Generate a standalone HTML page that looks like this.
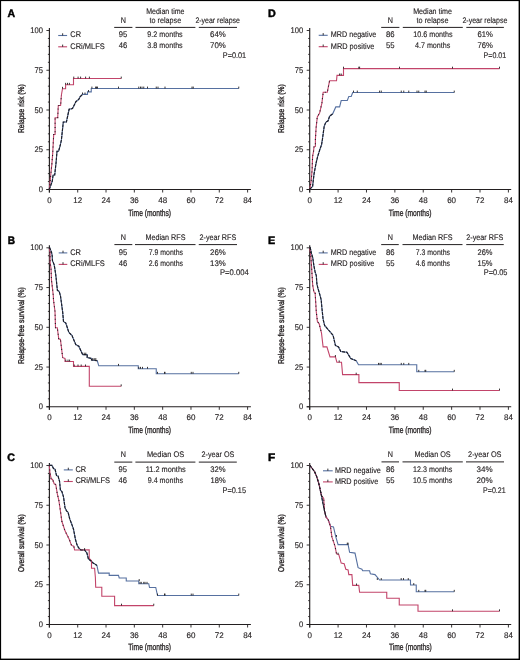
<!DOCTYPE html>
<html><head><meta charset="utf-8"><style>
html,body{margin:0;padding:0;background:#fff;}
svg{display:block;font-family:"Liberation Sans",sans-serif;will-change:transform;text-rendering:geometricPrecision;}
</style></head><body>
<svg width="520" height="660" viewBox="0 0 520 660">
<rect x="0" y="0" width="520" height="660" fill="#fff"/>
<rect x="0" y="0" width="520" height="1.1" fill="#000"/><rect x="0" y="0" width="1.1" height="660" fill="#000"/><rect x="518.6" y="0" width="1.4" height="660" fill="#000"/><rect x="0" y="658.6" width="520" height="1.4" fill="#000"/>
<line x1="49.40" y1="192.50" x2="49.40" y2="28.00" stroke="#231f20" stroke-width="1.15"/>
<line x1="46.40" y1="189.50" x2="250.90" y2="189.50" stroke="#231f20" stroke-width="1.1"/>
<line x1="46.40" y1="189.50" x2="49.40" y2="189.50" stroke="#231f20" stroke-width="0.9"/>
<line x1="47.90" y1="181.55" x2="49.40" y2="181.55" stroke="#231f20" stroke-width="0.9"/>
<line x1="47.90" y1="173.60" x2="49.40" y2="173.60" stroke="#231f20" stroke-width="0.9"/>
<line x1="47.90" y1="165.65" x2="49.40" y2="165.65" stroke="#231f20" stroke-width="0.9"/>
<line x1="47.90" y1="157.70" x2="49.40" y2="157.70" stroke="#231f20" stroke-width="0.9"/>
<line x1="46.40" y1="149.75" x2="49.40" y2="149.75" stroke="#231f20" stroke-width="0.9"/>
<line x1="47.90" y1="141.80" x2="49.40" y2="141.80" stroke="#231f20" stroke-width="0.9"/>
<line x1="47.90" y1="133.85" x2="49.40" y2="133.85" stroke="#231f20" stroke-width="0.9"/>
<line x1="47.90" y1="125.90" x2="49.40" y2="125.90" stroke="#231f20" stroke-width="0.9"/>
<line x1="47.90" y1="117.95" x2="49.40" y2="117.95" stroke="#231f20" stroke-width="0.9"/>
<line x1="46.40" y1="110.00" x2="49.40" y2="110.00" stroke="#231f20" stroke-width="0.9"/>
<line x1="47.90" y1="102.05" x2="49.40" y2="102.05" stroke="#231f20" stroke-width="0.9"/>
<line x1="47.90" y1="94.10" x2="49.40" y2="94.10" stroke="#231f20" stroke-width="0.9"/>
<line x1="47.90" y1="86.15" x2="49.40" y2="86.15" stroke="#231f20" stroke-width="0.9"/>
<line x1="47.90" y1="78.20" x2="49.40" y2="78.20" stroke="#231f20" stroke-width="0.9"/>
<line x1="46.40" y1="70.25" x2="49.40" y2="70.25" stroke="#231f20" stroke-width="0.9"/>
<line x1="47.90" y1="62.30" x2="49.40" y2="62.30" stroke="#231f20" stroke-width="0.9"/>
<line x1="47.90" y1="54.35" x2="49.40" y2="54.35" stroke="#231f20" stroke-width="0.9"/>
<line x1="47.90" y1="46.40" x2="49.40" y2="46.40" stroke="#231f20" stroke-width="0.9"/>
<line x1="47.90" y1="38.45" x2="49.40" y2="38.45" stroke="#231f20" stroke-width="0.9"/>
<line x1="46.40" y1="30.50" x2="49.40" y2="30.50" stroke="#231f20" stroke-width="0.9"/>
<line x1="49.40" y1="189.50" x2="49.40" y2="192.50" stroke="#231f20" stroke-width="0.9"/>
<text x="47.18" y="202.75" font-size="8.2" font-weight="normal" textLength="4.45" lengthAdjust="spacingAndGlyphs" fill="#231f20" stroke="#231f20" stroke-width="0.14">0</text>
<line x1="77.71" y1="189.50" x2="77.71" y2="192.50" stroke="#231f20" stroke-width="0.9"/>
<text x="73.27" y="202.75" font-size="8.2" font-weight="normal" textLength="8.90" lengthAdjust="spacingAndGlyphs" fill="#231f20" stroke="#231f20" stroke-width="0.14">12</text>
<line x1="106.03" y1="189.50" x2="106.03" y2="192.50" stroke="#231f20" stroke-width="0.9"/>
<text x="101.58" y="202.75" font-size="8.2" font-weight="normal" textLength="8.90" lengthAdjust="spacingAndGlyphs" fill="#231f20" stroke="#231f20" stroke-width="0.14">24</text>
<line x1="134.34" y1="189.50" x2="134.34" y2="192.50" stroke="#231f20" stroke-width="0.9"/>
<text x="129.89" y="202.75" font-size="8.2" font-weight="normal" textLength="8.90" lengthAdjust="spacingAndGlyphs" fill="#231f20" stroke="#231f20" stroke-width="0.14">36</text>
<line x1="162.66" y1="189.50" x2="162.66" y2="192.50" stroke="#231f20" stroke-width="0.9"/>
<text x="158.21" y="202.75" font-size="8.2" font-weight="normal" textLength="8.90" lengthAdjust="spacingAndGlyphs" fill="#231f20" stroke="#231f20" stroke-width="0.14">48</text>
<line x1="190.97" y1="189.50" x2="190.97" y2="192.50" stroke="#231f20" stroke-width="0.9"/>
<text x="186.52" y="202.75" font-size="8.2" font-weight="normal" textLength="8.90" lengthAdjust="spacingAndGlyphs" fill="#231f20" stroke="#231f20" stroke-width="0.14">60</text>
<line x1="219.29" y1="189.50" x2="219.29" y2="192.50" stroke="#231f20" stroke-width="0.9"/>
<text x="214.84" y="202.75" font-size="8.2" font-weight="normal" textLength="8.90" lengthAdjust="spacingAndGlyphs" fill="#231f20" stroke="#231f20" stroke-width="0.14">72</text>
<line x1="247.60" y1="189.50" x2="247.60" y2="192.50" stroke="#231f20" stroke-width="0.9"/>
<text x="243.15" y="202.75" font-size="8.2" font-weight="normal" textLength="8.90" lengthAdjust="spacingAndGlyphs" fill="#231f20" stroke="#231f20" stroke-width="0.14">84</text>
<text x="38.77" y="192.05" font-size="8.2" font-weight="normal" textLength="4.23" lengthAdjust="spacingAndGlyphs" fill="#231f20" stroke="#231f20" stroke-width="0.14">0</text>
<text x="34.55" y="152.30" font-size="8.2" font-weight="normal" textLength="8.45" lengthAdjust="spacingAndGlyphs" fill="#231f20" stroke="#231f20" stroke-width="0.14">25</text>
<text x="34.55" y="112.55" font-size="8.2" font-weight="normal" textLength="8.45" lengthAdjust="spacingAndGlyphs" fill="#231f20" stroke="#231f20" stroke-width="0.14">50</text>
<text x="34.55" y="72.80" font-size="8.2" font-weight="normal" textLength="8.45" lengthAdjust="spacingAndGlyphs" fill="#231f20" stroke="#231f20" stroke-width="0.14">75</text>
<text x="30.32" y="33.05" font-size="8.2" font-weight="normal" textLength="12.68" lengthAdjust="spacingAndGlyphs" fill="#231f20" stroke="#231f20" stroke-width="0.14">100</text>
<text x="7.40" y="16.60" font-size="10.8" font-weight="bold" textLength="7.60" lengthAdjust="spacingAndGlyphs" fill="#000" stroke="#000" stroke-width="0.45">A</text>
<text transform="translate(23.80,133.00) rotate(-90)" x="0" y="0" font-size="8.4" textLength="48.60" lengthAdjust="spacingAndGlyphs" fill="#231f20" stroke="#231f20" stroke-width="0.36">Relapse risk (%)</text>
<text x="128.30" y="215.60" font-size="9.2" font-weight="normal" textLength="42.70" lengthAdjust="spacingAndGlyphs" fill="#231f20" stroke="#231f20" stroke-width="0.32">Time (months)</text>
<path d="M49.30,189.40 L52.30,181.00 L53.10,175.00 L54.70,175.00 L56.20,161.30 L57.00,151.20 L58.60,151.20 L60.20,145.50 L61.40,140.00 L63.30,122.00 L66.40,122.00 L69.10,109.30 L72.50,108.50 L76.00,101.50 L78.75,99.40 L80.00,96.90 L82.50,94.40 L87.50,94.40 L87.50,91.90 L91.25,91.90 L91.25,88.50 L238.75,88.50" fill="none" stroke="#5670a0" stroke-width="1.1" stroke-linejoin="miter"/>
<path d="M49.30,189.40 L50.70,175.40 L51.90,163.60 L52.70,153.40 L53.70,134.50 L55.10,134.50 L55.10,117.80 L57.70,117.80 L58.30,105.50 L60.60,105.50 L61.40,95.00 L62.50,88.75 L65.60,88.75 L65.60,84.75 L73.50,84.75 L73.50,78.50 L121.25,78.50" fill="none" stroke="#c2446a" stroke-width="1.1" stroke-linejoin="miter"/>
<path d="M49.30,189.40 L52.30,181.00 L53.10,175.00 L54.70,175.00 L56.20,161.30 L57.00,151.20 L58.60,151.20 L60.20,145.50 L61.40,140.00 L63.30,122.00 L66.40,122.00 L69.10,109.30 L72.50,108.50 L76.00,101.50 L78.75,99.40 L80.00,96.90 L82.50,94.40" fill="none" stroke="#1c1c24" stroke-width="1.15" stroke-dasharray="3 0.9"/>
<path d="M49.30,189.40 L50.70,175.40 L51.90,163.60 L52.70,153.40 L53.70,134.50 L55.10,134.50 L55.10,117.80 L57.70,117.80 L58.30,105.50 L60.60,105.50 L61.40,95.00" fill="none" stroke="#1c1c24" stroke-width="1.1" stroke-dasharray="1 3.2"/>
<line x1="138.75" y1="88.50" x2="138.75" y2="86.60" stroke="#231f20" stroke-width="0.9"/>
<line x1="140.50" y1="88.50" x2="140.50" y2="86.60" stroke="#231f20" stroke-width="0.9"/>
<line x1="142.00" y1="88.50" x2="142.00" y2="86.60" stroke="#231f20" stroke-width="0.9"/>
<line x1="143.75" y1="88.50" x2="143.75" y2="86.60" stroke="#231f20" stroke-width="0.9"/>
<line x1="147.50" y1="88.50" x2="147.50" y2="86.60" stroke="#231f20" stroke-width="0.9"/>
<line x1="156.25" y1="88.50" x2="156.25" y2="86.60" stroke="#231f20" stroke-width="0.9"/>
<line x1="158.00" y1="88.50" x2="158.00" y2="86.60" stroke="#231f20" stroke-width="0.9"/>
<line x1="165.00" y1="88.50" x2="165.00" y2="86.60" stroke="#231f20" stroke-width="0.9"/>
<line x1="192.00" y1="88.50" x2="192.00" y2="86.60" stroke="#231f20" stroke-width="0.9"/>
<line x1="193.25" y1="88.50" x2="193.25" y2="86.60" stroke="#231f20" stroke-width="0.9"/>
<line x1="238.75" y1="88.50" x2="238.75" y2="86.60" stroke="#231f20" stroke-width="0.9"/>
<line x1="91.90" y1="88.50" x2="91.90" y2="86.60" stroke="#231f20" stroke-width="0.9"/>
<line x1="95.60" y1="88.50" x2="95.60" y2="86.60" stroke="#231f20" stroke-width="0.9"/>
<line x1="96.50" y1="88.50" x2="96.50" y2="86.60" stroke="#231f20" stroke-width="0.9"/>
<line x1="97.50" y1="88.50" x2="97.50" y2="86.60" stroke="#231f20" stroke-width="0.9"/>
<line x1="118.50" y1="88.50" x2="118.50" y2="86.60" stroke="#231f20" stroke-width="0.9"/>
<line x1="82.50" y1="94.40" x2="82.50" y2="92.50" stroke="#231f20" stroke-width="0.9"/>
<line x1="85.00" y1="94.40" x2="85.00" y2="92.50" stroke="#231f20" stroke-width="0.9"/>
<line x1="88.50" y1="91.90" x2="88.50" y2="90.00" stroke="#231f20" stroke-width="0.9"/>
<line x1="73.75" y1="78.50" x2="73.75" y2="76.60" stroke="#231f20" stroke-width="0.9"/>
<line x1="78.10" y1="78.50" x2="78.10" y2="76.60" stroke="#231f20" stroke-width="0.9"/>
<line x1="80.60" y1="78.50" x2="80.60" y2="76.60" stroke="#231f20" stroke-width="0.9"/>
<line x1="85.60" y1="78.50" x2="85.60" y2="76.60" stroke="#231f20" stroke-width="0.9"/>
<line x1="89.40" y1="78.50" x2="89.40" y2="76.60" stroke="#231f20" stroke-width="0.9"/>
<line x1="121.25" y1="78.50" x2="121.25" y2="76.60" stroke="#231f20" stroke-width="0.9"/>
<line x1="65.60" y1="84.75" x2="65.60" y2="82.85" stroke="#231f20" stroke-width="0.9"/>
<line x1="67.50" y1="84.75" x2="67.50" y2="82.85" stroke="#231f20" stroke-width="0.9"/>
<line x1="69.40" y1="84.75" x2="69.40" y2="82.85" stroke="#231f20" stroke-width="0.9"/>
<line x1="62.50" y1="88.75" x2="62.50" y2="86.85" stroke="#231f20" stroke-width="0.9"/>
<line x1="58.20" y1="35.50" x2="67.10" y2="35.50" stroke="#5670a0" stroke-width="1.1"/>
<line x1="62.65" y1="35.50" x2="62.65" y2="33.30" stroke="#231f20" stroke-width="0.9"/>
<line x1="58.20" y1="46.80" x2="67.10" y2="46.80" stroke="#c2446a" stroke-width="1.1"/>
<line x1="62.65" y1="46.80" x2="62.65" y2="44.60" stroke="#231f20" stroke-width="0.9"/>
<text x="70.30" y="37.40" font-size="8.1" font-weight="normal" textLength="10.70" lengthAdjust="spacingAndGlyphs" fill="#231f20" stroke="#231f20" stroke-width="0.14">CR</text>
<text x="70.30" y="48.70" font-size="8.1" font-weight="normal" textLength="34.50" lengthAdjust="spacingAndGlyphs" fill="#231f20" stroke="#231f20" stroke-width="0.14">CRi/MLFS</text>
<line x1="114.20" y1="27.40" x2="132.40" y2="27.40" stroke="#231f20" stroke-width="1.0"/>
<line x1="135.50" y1="27.40" x2="195.40" y2="27.40" stroke="#231f20" stroke-width="1.0"/>
<line x1="198.80" y1="27.40" x2="237.00" y2="27.40" stroke="#231f20" stroke-width="1.0"/>
<text x="120.80" y="22.60" font-size="8.1" font-weight="normal" textLength="5.20" lengthAdjust="spacingAndGlyphs" fill="#231f20" stroke="#231f20" stroke-width="0.14">N</text>
<text x="146.20" y="13.50" font-size="8.1" font-weight="normal" textLength="38.30" lengthAdjust="spacingAndGlyphs" fill="#231f20" stroke="#231f20" stroke-width="0.14">Median time</text>
<text x="149.60" y="22.60" font-size="8.1" font-weight="normal" textLength="31.60" lengthAdjust="spacingAndGlyphs" fill="#231f20" stroke="#231f20" stroke-width="0.14">to relapse</text>
<text x="195.40" y="22.60" font-size="8.1" font-weight="normal" textLength="44.60" lengthAdjust="spacingAndGlyphs" fill="#231f20" stroke="#231f20" stroke-width="0.14">2-year relapse</text>
<text x="118.80" y="36.90" font-size="8.1" font-weight="normal" textLength="8.50" lengthAdjust="spacingAndGlyphs" fill="#231f20" stroke="#231f20" stroke-width="0.14">95</text>
<text x="147.30" y="36.90" font-size="8.1" font-weight="normal" textLength="35.40" lengthAdjust="spacingAndGlyphs" fill="#231f20" stroke="#231f20" stroke-width="0.14">9.2 months</text>
<text x="210.00" y="36.90" font-size="8.1" font-weight="normal" textLength="15.80" lengthAdjust="spacingAndGlyphs" fill="#231f20" stroke="#231f20" stroke-width="0.14">64%</text>
<text x="118.80" y="48.30" font-size="8.1" font-weight="normal" textLength="8.50" lengthAdjust="spacingAndGlyphs" fill="#231f20" stroke="#231f20" stroke-width="0.14">46</text>
<text x="147.30" y="48.30" font-size="8.1" font-weight="normal" textLength="35.40" lengthAdjust="spacingAndGlyphs" fill="#231f20" stroke="#231f20" stroke-width="0.14">3.8 months</text>
<text x="210.00" y="48.30" font-size="8.1" font-weight="normal" textLength="15.80" lengthAdjust="spacingAndGlyphs" fill="#231f20" stroke="#231f20" stroke-width="0.14">70%</text>
<text x="222.80" y="58.40" font-size="8.1" font-weight="normal" textLength="23.40" lengthAdjust="spacingAndGlyphs" fill="#231f20" stroke="#231f20" stroke-width="0.14">P=0.01</text>
<line x1="49.40" y1="409.80" x2="49.40" y2="245.30" stroke="#231f20" stroke-width="1.15"/>
<line x1="46.40" y1="406.80" x2="250.90" y2="406.80" stroke="#231f20" stroke-width="1.1"/>
<line x1="46.40" y1="406.80" x2="49.40" y2="406.80" stroke="#231f20" stroke-width="0.9"/>
<line x1="47.90" y1="398.85" x2="49.40" y2="398.85" stroke="#231f20" stroke-width="0.9"/>
<line x1="47.90" y1="390.90" x2="49.40" y2="390.90" stroke="#231f20" stroke-width="0.9"/>
<line x1="47.90" y1="382.95" x2="49.40" y2="382.95" stroke="#231f20" stroke-width="0.9"/>
<line x1="47.90" y1="375.00" x2="49.40" y2="375.00" stroke="#231f20" stroke-width="0.9"/>
<line x1="46.40" y1="367.05" x2="49.40" y2="367.05" stroke="#231f20" stroke-width="0.9"/>
<line x1="47.90" y1="359.10" x2="49.40" y2="359.10" stroke="#231f20" stroke-width="0.9"/>
<line x1="47.90" y1="351.15" x2="49.40" y2="351.15" stroke="#231f20" stroke-width="0.9"/>
<line x1="47.90" y1="343.20" x2="49.40" y2="343.20" stroke="#231f20" stroke-width="0.9"/>
<line x1="47.90" y1="335.25" x2="49.40" y2="335.25" stroke="#231f20" stroke-width="0.9"/>
<line x1="46.40" y1="327.30" x2="49.40" y2="327.30" stroke="#231f20" stroke-width="0.9"/>
<line x1="47.90" y1="319.35" x2="49.40" y2="319.35" stroke="#231f20" stroke-width="0.9"/>
<line x1="47.90" y1="311.40" x2="49.40" y2="311.40" stroke="#231f20" stroke-width="0.9"/>
<line x1="47.90" y1="303.45" x2="49.40" y2="303.45" stroke="#231f20" stroke-width="0.9"/>
<line x1="47.90" y1="295.50" x2="49.40" y2="295.50" stroke="#231f20" stroke-width="0.9"/>
<line x1="46.40" y1="287.55" x2="49.40" y2="287.55" stroke="#231f20" stroke-width="0.9"/>
<line x1="47.90" y1="279.60" x2="49.40" y2="279.60" stroke="#231f20" stroke-width="0.9"/>
<line x1="47.90" y1="271.65" x2="49.40" y2="271.65" stroke="#231f20" stroke-width="0.9"/>
<line x1="47.90" y1="263.70" x2="49.40" y2="263.70" stroke="#231f20" stroke-width="0.9"/>
<line x1="47.90" y1="255.75" x2="49.40" y2="255.75" stroke="#231f20" stroke-width="0.9"/>
<line x1="46.40" y1="247.80" x2="49.40" y2="247.80" stroke="#231f20" stroke-width="0.9"/>
<line x1="49.40" y1="406.80" x2="49.40" y2="409.80" stroke="#231f20" stroke-width="0.9"/>
<text x="47.18" y="420.05" font-size="8.2" font-weight="normal" textLength="4.45" lengthAdjust="spacingAndGlyphs" fill="#231f20" stroke="#231f20" stroke-width="0.14">0</text>
<line x1="77.71" y1="406.80" x2="77.71" y2="409.80" stroke="#231f20" stroke-width="0.9"/>
<text x="73.27" y="420.05" font-size="8.2" font-weight="normal" textLength="8.90" lengthAdjust="spacingAndGlyphs" fill="#231f20" stroke="#231f20" stroke-width="0.14">12</text>
<line x1="106.03" y1="406.80" x2="106.03" y2="409.80" stroke="#231f20" stroke-width="0.9"/>
<text x="101.58" y="420.05" font-size="8.2" font-weight="normal" textLength="8.90" lengthAdjust="spacingAndGlyphs" fill="#231f20" stroke="#231f20" stroke-width="0.14">24</text>
<line x1="134.34" y1="406.80" x2="134.34" y2="409.80" stroke="#231f20" stroke-width="0.9"/>
<text x="129.89" y="420.05" font-size="8.2" font-weight="normal" textLength="8.90" lengthAdjust="spacingAndGlyphs" fill="#231f20" stroke="#231f20" stroke-width="0.14">36</text>
<line x1="162.66" y1="406.80" x2="162.66" y2="409.80" stroke="#231f20" stroke-width="0.9"/>
<text x="158.21" y="420.05" font-size="8.2" font-weight="normal" textLength="8.90" lengthAdjust="spacingAndGlyphs" fill="#231f20" stroke="#231f20" stroke-width="0.14">48</text>
<line x1="190.97" y1="406.80" x2="190.97" y2="409.80" stroke="#231f20" stroke-width="0.9"/>
<text x="186.52" y="420.05" font-size="8.2" font-weight="normal" textLength="8.90" lengthAdjust="spacingAndGlyphs" fill="#231f20" stroke="#231f20" stroke-width="0.14">60</text>
<line x1="219.29" y1="406.80" x2="219.29" y2="409.80" stroke="#231f20" stroke-width="0.9"/>
<text x="214.84" y="420.05" font-size="8.2" font-weight="normal" textLength="8.90" lengthAdjust="spacingAndGlyphs" fill="#231f20" stroke="#231f20" stroke-width="0.14">72</text>
<line x1="247.60" y1="406.80" x2="247.60" y2="409.80" stroke="#231f20" stroke-width="0.9"/>
<text x="243.15" y="420.05" font-size="8.2" font-weight="normal" textLength="8.90" lengthAdjust="spacingAndGlyphs" fill="#231f20" stroke="#231f20" stroke-width="0.14">84</text>
<text x="38.77" y="409.35" font-size="8.2" font-weight="normal" textLength="4.23" lengthAdjust="spacingAndGlyphs" fill="#231f20" stroke="#231f20" stroke-width="0.14">0</text>
<text x="34.55" y="369.60" font-size="8.2" font-weight="normal" textLength="8.45" lengthAdjust="spacingAndGlyphs" fill="#231f20" stroke="#231f20" stroke-width="0.14">25</text>
<text x="34.55" y="329.85" font-size="8.2" font-weight="normal" textLength="8.45" lengthAdjust="spacingAndGlyphs" fill="#231f20" stroke="#231f20" stroke-width="0.14">50</text>
<text x="34.55" y="290.10" font-size="8.2" font-weight="normal" textLength="8.45" lengthAdjust="spacingAndGlyphs" fill="#231f20" stroke="#231f20" stroke-width="0.14">75</text>
<text x="30.32" y="250.35" font-size="8.2" font-weight="normal" textLength="12.68" lengthAdjust="spacingAndGlyphs" fill="#231f20" stroke="#231f20" stroke-width="0.14">100</text>
<text x="7.70" y="243.60" font-size="10.8" font-weight="bold" textLength="7.30" lengthAdjust="spacingAndGlyphs" fill="#000" stroke="#000" stroke-width="0.45">B</text>
<text transform="translate(23.80,364.00) rotate(-90)" x="0" y="0" font-size="8.4" textLength="76.80" lengthAdjust="spacingAndGlyphs" fill="#231f20" stroke="#231f20" stroke-width="0.36">Relapse-free survival (%)</text>
<text x="128.30" y="432.70" font-size="9.2" font-weight="normal" textLength="42.70" lengthAdjust="spacingAndGlyphs" fill="#231f20" stroke="#231f20" stroke-width="0.32">Time (months)</text>
<path d="M49.30,247.80 L49.60,247.60 L51.50,252.20 L52.20,255.80 L52.40,260.40 L54.20,264.90 L55.10,270.40 L56.00,276.70 L56.90,285.80 L57.40,290.40 L59.20,291.30 L60.50,296.00 L62.70,312.30 L63.50,321.50 L65.80,323.00 L68.80,332.30 L71.90,335.40 L75.80,344.60 L78.80,346.20 L82.70,354.60 L87.20,354.60 L87.20,357.50 L91.50,358.50 L91.50,360.00 L97.30,360.80 L98.75,365.80 L138.25,365.80 L138.25,368.75 L156.25,368.75 L156.25,373.75 L238.75,373.75" fill="none" stroke="#5670a0" stroke-width="1.1" stroke-linejoin="miter"/>
<path d="M49.30,247.80 L50.10,253.00 L50.10,262.20 L51.00,268.50 L51.50,280.40 L52.40,287.60 L53.30,295.80 L53.50,300.00 L55.00,311.50 L55.50,327.70 L57.30,327.70 L58.80,339.20 L60.40,339.20 L62.70,357.70 L65.00,358.50 L65.00,361.50 L73.50,361.50 L73.50,366.40 L89.30,366.40 L89.30,386.25 L121.20,386.25" fill="none" stroke="#c2446a" stroke-width="1.1" stroke-linejoin="miter"/>
<path d="M49.30,247.80 L49.60,247.60 L51.50,252.20 L52.20,255.80 L52.40,260.40 L54.20,264.90 L55.10,270.40 L56.00,276.70 L56.90,285.80 L57.40,290.40 L59.20,291.30 L60.50,296.00 L62.70,312.30 L63.50,321.50 L65.80,323.00 L68.80,332.30 L71.90,335.40 L75.80,344.60 L78.80,346.20 L82.70,354.60 L87.20,354.60 L87.20,357.50 L91.50,358.50 L91.50,360.00 L97.30,360.80" fill="none" stroke="#1c1c24" stroke-width="1.15" stroke-dasharray="3 0.9"/>
<path d="M49.30,247.80 L50.10,253.00 L50.10,262.20 L51.00,268.50 L51.50,280.40 L52.40,287.60 L53.30,295.80 L53.50,300.00 L55.00,311.50 L55.50,327.70 L57.30,327.70 L58.80,339.20 L60.40,339.20 L62.70,357.70" fill="none" stroke="#1c1c24" stroke-width="1.1" stroke-dasharray="1 3.2"/>
<line x1="84.20" y1="354.60" x2="84.20" y2="352.70" stroke="#231f20" stroke-width="0.9"/>
<line x1="85.80" y1="354.60" x2="85.80" y2="352.70" stroke="#231f20" stroke-width="0.9"/>
<line x1="92.70" y1="360.00" x2="92.70" y2="358.10" stroke="#231f20" stroke-width="0.9"/>
<line x1="94.20" y1="360.00" x2="94.20" y2="358.10" stroke="#231f20" stroke-width="0.9"/>
<line x1="95.80" y1="360.00" x2="95.80" y2="358.10" stroke="#231f20" stroke-width="0.9"/>
<line x1="118.50" y1="365.80" x2="118.50" y2="363.90" stroke="#231f20" stroke-width="0.9"/>
<line x1="138.75" y1="368.75" x2="138.75" y2="366.85" stroke="#231f20" stroke-width="0.9"/>
<line x1="140.50" y1="368.75" x2="140.50" y2="366.85" stroke="#231f20" stroke-width="0.9"/>
<line x1="142.50" y1="368.75" x2="142.50" y2="366.85" stroke="#231f20" stroke-width="0.9"/>
<line x1="147.50" y1="368.75" x2="147.50" y2="366.85" stroke="#231f20" stroke-width="0.9"/>
<line x1="157.50" y1="373.75" x2="157.50" y2="371.85" stroke="#231f20" stroke-width="0.9"/>
<line x1="164.50" y1="373.75" x2="164.50" y2="371.85" stroke="#231f20" stroke-width="0.9"/>
<line x1="165.00" y1="373.75" x2="165.00" y2="371.85" stroke="#231f20" stroke-width="0.9"/>
<line x1="191.25" y1="373.75" x2="191.25" y2="371.85" stroke="#231f20" stroke-width="0.9"/>
<line x1="193.00" y1="373.75" x2="193.00" y2="371.85" stroke="#231f20" stroke-width="0.9"/>
<line x1="238.75" y1="373.75" x2="238.75" y2="371.85" stroke="#231f20" stroke-width="0.9"/>
<line x1="65.80" y1="361.50" x2="65.80" y2="359.60" stroke="#231f20" stroke-width="0.9"/>
<line x1="68.00" y1="361.50" x2="68.00" y2="359.60" stroke="#231f20" stroke-width="0.9"/>
<line x1="69.60" y1="361.50" x2="69.60" y2="359.60" stroke="#231f20" stroke-width="0.9"/>
<line x1="74.20" y1="366.40" x2="74.20" y2="364.50" stroke="#231f20" stroke-width="0.9"/>
<line x1="78.00" y1="366.40" x2="78.00" y2="364.50" stroke="#231f20" stroke-width="0.9"/>
<line x1="81.20" y1="366.40" x2="81.20" y2="364.50" stroke="#231f20" stroke-width="0.9"/>
<line x1="85.50" y1="366.40" x2="85.50" y2="364.50" stroke="#231f20" stroke-width="0.9"/>
<line x1="121.20" y1="386.25" x2="121.20" y2="384.35" stroke="#231f20" stroke-width="0.9"/>
<line x1="58.70" y1="252.90" x2="67.30" y2="252.90" stroke="#5670a0" stroke-width="1.1"/>
<line x1="63.00" y1="252.90" x2="63.00" y2="250.70" stroke="#231f20" stroke-width="0.9"/>
<line x1="58.70" y1="264.40" x2="67.30" y2="264.40" stroke="#c2446a" stroke-width="1.1"/>
<line x1="63.00" y1="264.40" x2="63.00" y2="262.20" stroke="#231f20" stroke-width="0.9"/>
<text x="70.20" y="254.80" font-size="8.1" font-weight="normal" textLength="10.80" lengthAdjust="spacingAndGlyphs" fill="#231f20" stroke="#231f20" stroke-width="0.14">CR</text>
<text x="70.20" y="266.30" font-size="8.1" font-weight="normal" textLength="34.60" lengthAdjust="spacingAndGlyphs" fill="#231f20" stroke="#231f20" stroke-width="0.14">CRi/MLFS</text>
<line x1="114.40" y1="244.60" x2="132.30" y2="244.60" stroke="#231f20" stroke-width="1.0"/>
<line x1="135.00" y1="244.60" x2="195.50" y2="244.60" stroke="#231f20" stroke-width="1.0"/>
<line x1="198.75" y1="244.60" x2="237.00" y2="244.60" stroke="#231f20" stroke-width="1.0"/>
<text x="120.80" y="240.00" font-size="8.1" font-weight="normal" textLength="5.20" lengthAdjust="spacingAndGlyphs" fill="#231f20" stroke="#231f20" stroke-width="0.14">N</text>
<text x="145.50" y="239.80" font-size="8.1" font-weight="normal" textLength="40.00" lengthAdjust="spacingAndGlyphs" fill="#231f20" stroke="#231f20" stroke-width="0.14">Median RFS</text>
<text x="199.50" y="239.80" font-size="8.1" font-weight="normal" textLength="36.75" lengthAdjust="spacingAndGlyphs" fill="#231f20" stroke="#231f20" stroke-width="0.14">2-year RFS</text>
<text x="118.80" y="254.60" font-size="8.1" font-weight="normal" textLength="8.50" lengthAdjust="spacingAndGlyphs" fill="#231f20" stroke="#231f20" stroke-width="0.14">95</text>
<text x="148.75" y="254.60" font-size="8.1" font-weight="normal" textLength="34.25" lengthAdjust="spacingAndGlyphs" fill="#231f20" stroke="#231f20" stroke-width="0.14">7.9 months</text>
<text x="210.00" y="254.60" font-size="8.1" font-weight="normal" textLength="15.75" lengthAdjust="spacingAndGlyphs" fill="#231f20" stroke="#231f20" stroke-width="0.14">26%</text>
<text x="118.80" y="265.80" font-size="8.1" font-weight="normal" textLength="8.50" lengthAdjust="spacingAndGlyphs" fill="#231f20" stroke="#231f20" stroke-width="0.14">46</text>
<text x="148.75" y="265.80" font-size="8.1" font-weight="normal" textLength="34.25" lengthAdjust="spacingAndGlyphs" fill="#231f20" stroke="#231f20" stroke-width="0.14">2.6 months</text>
<text x="210.00" y="265.80" font-size="8.1" font-weight="normal" textLength="15.75" lengthAdjust="spacingAndGlyphs" fill="#231f20" stroke="#231f20" stroke-width="0.14">13%</text>
<text x="220.00" y="275.40" font-size="8.1" font-weight="normal" textLength="28.75" lengthAdjust="spacingAndGlyphs" fill="#231f20" stroke="#231f20" stroke-width="0.14">P=0.004</text>
<line x1="49.40" y1="627.50" x2="49.40" y2="463.00" stroke="#231f20" stroke-width="1.15"/>
<line x1="46.40" y1="624.50" x2="250.90" y2="624.50" stroke="#231f20" stroke-width="1.1"/>
<line x1="46.40" y1="624.50" x2="49.40" y2="624.50" stroke="#231f20" stroke-width="0.9"/>
<line x1="47.90" y1="616.55" x2="49.40" y2="616.55" stroke="#231f20" stroke-width="0.9"/>
<line x1="47.90" y1="608.60" x2="49.40" y2="608.60" stroke="#231f20" stroke-width="0.9"/>
<line x1="47.90" y1="600.65" x2="49.40" y2="600.65" stroke="#231f20" stroke-width="0.9"/>
<line x1="47.90" y1="592.70" x2="49.40" y2="592.70" stroke="#231f20" stroke-width="0.9"/>
<line x1="46.40" y1="584.75" x2="49.40" y2="584.75" stroke="#231f20" stroke-width="0.9"/>
<line x1="47.90" y1="576.80" x2="49.40" y2="576.80" stroke="#231f20" stroke-width="0.9"/>
<line x1="47.90" y1="568.85" x2="49.40" y2="568.85" stroke="#231f20" stroke-width="0.9"/>
<line x1="47.90" y1="560.90" x2="49.40" y2="560.90" stroke="#231f20" stroke-width="0.9"/>
<line x1="47.90" y1="552.95" x2="49.40" y2="552.95" stroke="#231f20" stroke-width="0.9"/>
<line x1="46.40" y1="545.00" x2="49.40" y2="545.00" stroke="#231f20" stroke-width="0.9"/>
<line x1="47.90" y1="537.05" x2="49.40" y2="537.05" stroke="#231f20" stroke-width="0.9"/>
<line x1="47.90" y1="529.10" x2="49.40" y2="529.10" stroke="#231f20" stroke-width="0.9"/>
<line x1="47.90" y1="521.15" x2="49.40" y2="521.15" stroke="#231f20" stroke-width="0.9"/>
<line x1="47.90" y1="513.20" x2="49.40" y2="513.20" stroke="#231f20" stroke-width="0.9"/>
<line x1="46.40" y1="505.25" x2="49.40" y2="505.25" stroke="#231f20" stroke-width="0.9"/>
<line x1="47.90" y1="497.30" x2="49.40" y2="497.30" stroke="#231f20" stroke-width="0.9"/>
<line x1="47.90" y1="489.35" x2="49.40" y2="489.35" stroke="#231f20" stroke-width="0.9"/>
<line x1="47.90" y1="481.40" x2="49.40" y2="481.40" stroke="#231f20" stroke-width="0.9"/>
<line x1="47.90" y1="473.45" x2="49.40" y2="473.45" stroke="#231f20" stroke-width="0.9"/>
<line x1="46.40" y1="465.50" x2="49.40" y2="465.50" stroke="#231f20" stroke-width="0.9"/>
<line x1="49.40" y1="624.50" x2="49.40" y2="627.50" stroke="#231f20" stroke-width="0.9"/>
<text x="47.18" y="637.75" font-size="8.2" font-weight="normal" textLength="4.45" lengthAdjust="spacingAndGlyphs" fill="#231f20" stroke="#231f20" stroke-width="0.14">0</text>
<line x1="77.71" y1="624.50" x2="77.71" y2="627.50" stroke="#231f20" stroke-width="0.9"/>
<text x="73.27" y="637.75" font-size="8.2" font-weight="normal" textLength="8.90" lengthAdjust="spacingAndGlyphs" fill="#231f20" stroke="#231f20" stroke-width="0.14">12</text>
<line x1="106.03" y1="624.50" x2="106.03" y2="627.50" stroke="#231f20" stroke-width="0.9"/>
<text x="101.58" y="637.75" font-size="8.2" font-weight="normal" textLength="8.90" lengthAdjust="spacingAndGlyphs" fill="#231f20" stroke="#231f20" stroke-width="0.14">24</text>
<line x1="134.34" y1="624.50" x2="134.34" y2="627.50" stroke="#231f20" stroke-width="0.9"/>
<text x="129.89" y="637.75" font-size="8.2" font-weight="normal" textLength="8.90" lengthAdjust="spacingAndGlyphs" fill="#231f20" stroke="#231f20" stroke-width="0.14">36</text>
<line x1="162.66" y1="624.50" x2="162.66" y2="627.50" stroke="#231f20" stroke-width="0.9"/>
<text x="158.21" y="637.75" font-size="8.2" font-weight="normal" textLength="8.90" lengthAdjust="spacingAndGlyphs" fill="#231f20" stroke="#231f20" stroke-width="0.14">48</text>
<line x1="190.97" y1="624.50" x2="190.97" y2="627.50" stroke="#231f20" stroke-width="0.9"/>
<text x="186.52" y="637.75" font-size="8.2" font-weight="normal" textLength="8.90" lengthAdjust="spacingAndGlyphs" fill="#231f20" stroke="#231f20" stroke-width="0.14">60</text>
<line x1="219.29" y1="624.50" x2="219.29" y2="627.50" stroke="#231f20" stroke-width="0.9"/>
<text x="214.84" y="637.75" font-size="8.2" font-weight="normal" textLength="8.90" lengthAdjust="spacingAndGlyphs" fill="#231f20" stroke="#231f20" stroke-width="0.14">72</text>
<line x1="247.60" y1="624.50" x2="247.60" y2="627.50" stroke="#231f20" stroke-width="0.9"/>
<text x="243.15" y="637.75" font-size="8.2" font-weight="normal" textLength="8.90" lengthAdjust="spacingAndGlyphs" fill="#231f20" stroke="#231f20" stroke-width="0.14">84</text>
<text x="38.77" y="627.05" font-size="8.2" font-weight="normal" textLength="4.23" lengthAdjust="spacingAndGlyphs" fill="#231f20" stroke="#231f20" stroke-width="0.14">0</text>
<text x="34.55" y="587.30" font-size="8.2" font-weight="normal" textLength="8.45" lengthAdjust="spacingAndGlyphs" fill="#231f20" stroke="#231f20" stroke-width="0.14">25</text>
<text x="34.55" y="547.55" font-size="8.2" font-weight="normal" textLength="8.45" lengthAdjust="spacingAndGlyphs" fill="#231f20" stroke="#231f20" stroke-width="0.14">50</text>
<text x="34.55" y="507.80" font-size="8.2" font-weight="normal" textLength="8.45" lengthAdjust="spacingAndGlyphs" fill="#231f20" stroke="#231f20" stroke-width="0.14">75</text>
<text x="30.32" y="468.05" font-size="8.2" font-weight="normal" textLength="12.68" lengthAdjust="spacingAndGlyphs" fill="#231f20" stroke="#231f20" stroke-width="0.14">100</text>
<text x="7.30" y="460.90" font-size="10.8" font-weight="bold" textLength="7.70" lengthAdjust="spacingAndGlyphs" fill="#000" stroke="#000" stroke-width="0.45">C</text>
<text transform="translate(23.80,572.00) rotate(-90)" x="0" y="0" font-size="8.4" textLength="57.60" lengthAdjust="spacingAndGlyphs" fill="#231f20" stroke="#231f20" stroke-width="0.36">Overall survival (%)</text>
<text x="128.30" y="650.20" font-size="9.2" font-weight="normal" textLength="42.70" lengthAdjust="spacingAndGlyphs" fill="#231f20" stroke="#231f20" stroke-width="0.32">Time (months)</text>
<path d="M49.30,465.30 L51.90,465.40 L53.50,468.50 L55.00,469.20 L56.50,475.40 L58.10,476.20 L59.60,481.50 L60.40,490.00 L61.90,491.50 L63.50,496.90 L65.00,507.70 L66.50,510.80 L68.10,512.30 L69.60,518.50 L71.90,524.60 L73.50,529.20 L75.40,539.20 L76.90,544.60 L78.50,547.70 L80.80,550.00 L84.60,550.00 L86.90,553.10 L88.50,559.20 L90.80,560.80 L93.10,563.00 L96.90,565.40 L98.50,573.10 L109.20,573.10 L109.20,575.40 L118.50,575.40 L119.20,578.00 L126.25,578.00 L126.25,581.00 L138.75,581.00 L138.75,583.75 L148.75,583.75 L149.50,587.50 L155.75,587.50 L157.50,595.50 L238.75,595.50" fill="none" stroke="#5670a0" stroke-width="1.1" stroke-linejoin="miter"/>
<path d="M49.30,465.30 L49.90,472.30 L51.20,479.20 L52.50,479.20 L54.20,483.80 L55.80,484.60 L57.30,493.80 L58.80,500.00 L60.40,510.80 L61.90,521.50 L63.50,526.20 L65.00,530.80 L67.70,536.20 L69.20,539.20 L71.50,545.40 L73.80,546.20 L74.60,550.00 L89.20,549.70 L89.20,558.50 L91.50,560.80 L91.50,568.20 L94.60,568.20 L95.40,577.70 L95.70,587.20 L101.80,587.20 L101.80,596.20 L114.60,596.20 L114.60,605.60 L153.75,605.60" fill="none" stroke="#c2446a" stroke-width="1.1" stroke-linejoin="miter"/>
<path d="M49.30,465.30 L51.90,465.40 L53.50,468.50 L55.00,469.20 L56.50,475.40 L58.10,476.20 L59.60,481.50 L60.40,490.00 L61.90,491.50 L63.50,496.90 L65.00,507.70 L66.50,510.80 L68.10,512.30 L69.60,518.50 L71.90,524.60 L73.50,529.20 L75.40,539.20 L76.90,544.60 L78.50,547.70 L80.80,550.00 L84.60,550.00 L86.90,553.10 L88.50,559.20 L90.80,560.80 L93.10,563.00 L96.90,565.40" fill="none" stroke="#1c1c24" stroke-width="1.15" stroke-dasharray="3 0.9"/>
<path d="M49.30,465.30 L49.90,472.30 L51.20,479.20 L52.50,479.20 L54.20,483.80 L55.80,484.60 L57.30,493.80 L58.80,500.00 L60.40,510.80 L61.90,521.50 L63.50,526.20 L65.00,530.80 L67.70,536.20 L69.20,539.20 L71.50,545.40 L73.80,546.20 L74.60,550.00" fill="none" stroke="#1c1c24" stroke-width="1.1" stroke-dasharray="1 3.2"/>
<line x1="84.60" y1="550.00" x2="84.60" y2="548.10" stroke="#231f20" stroke-width="0.9"/>
<line x1="140.00" y1="583.75" x2="140.00" y2="581.85" stroke="#231f20" stroke-width="0.9"/>
<line x1="141.25" y1="583.75" x2="141.25" y2="581.85" stroke="#231f20" stroke-width="0.9"/>
<line x1="143.75" y1="583.75" x2="143.75" y2="581.85" stroke="#231f20" stroke-width="0.9"/>
<line x1="145.00" y1="583.75" x2="145.00" y2="581.85" stroke="#231f20" stroke-width="0.9"/>
<line x1="147.00" y1="583.75" x2="147.00" y2="581.85" stroke="#231f20" stroke-width="0.9"/>
<line x1="157.50" y1="595.50" x2="157.50" y2="593.60" stroke="#231f20" stroke-width="0.9"/>
<line x1="164.50" y1="595.50" x2="164.50" y2="593.60" stroke="#231f20" stroke-width="0.9"/>
<line x1="165.00" y1="595.50" x2="165.00" y2="593.60" stroke="#231f20" stroke-width="0.9"/>
<line x1="191.25" y1="595.50" x2="191.25" y2="593.60" stroke="#231f20" stroke-width="0.9"/>
<line x1="193.00" y1="595.50" x2="193.00" y2="593.60" stroke="#231f20" stroke-width="0.9"/>
<line x1="238.75" y1="595.50" x2="238.75" y2="593.60" stroke="#231f20" stroke-width="0.9"/>
<line x1="139.20" y1="581.00" x2="139.20" y2="579.10" stroke="#231f20" stroke-width="0.9"/>
<line x1="121.50" y1="605.60" x2="121.50" y2="603.70" stroke="#231f20" stroke-width="0.9"/>
<line x1="153.75" y1="605.60" x2="153.75" y2="603.70" stroke="#231f20" stroke-width="0.9"/>
<line x1="63.80" y1="469.90" x2="72.80" y2="469.90" stroke="#5670a0" stroke-width="1.1"/>
<line x1="68.30" y1="469.90" x2="68.30" y2="467.70" stroke="#231f20" stroke-width="0.9"/>
<line x1="63.80" y1="481.50" x2="72.80" y2="481.50" stroke="#c2446a" stroke-width="1.1"/>
<line x1="68.30" y1="481.50" x2="68.30" y2="479.30" stroke="#231f20" stroke-width="0.9"/>
<text x="75.40" y="471.80" font-size="8.1" font-weight="normal" textLength="10.70" lengthAdjust="spacingAndGlyphs" fill="#231f20" stroke="#231f20" stroke-width="0.14">CR</text>
<text x="75.40" y="483.40" font-size="8.1" font-weight="normal" textLength="34.60" lengthAdjust="spacingAndGlyphs" fill="#231f20" stroke="#231f20" stroke-width="0.14">CRi/MLFS</text>
<line x1="114.30" y1="462.10" x2="132.30" y2="462.10" stroke="#231f20" stroke-width="1.0"/>
<line x1="135.40" y1="462.10" x2="195.40" y2="462.10" stroke="#231f20" stroke-width="1.0"/>
<line x1="198.80" y1="462.10" x2="236.80" y2="462.10" stroke="#231f20" stroke-width="1.0"/>
<text x="120.80" y="457.30" font-size="8.1" font-weight="normal" textLength="5.20" lengthAdjust="spacingAndGlyphs" fill="#231f20" stroke="#231f20" stroke-width="0.14">N</text>
<text x="146.90" y="457.30" font-size="8.1" font-weight="normal" textLength="37.30" lengthAdjust="spacingAndGlyphs" fill="#231f20" stroke="#231f20" stroke-width="0.14">Median OS</text>
<text x="201.60" y="457.30" font-size="8.1" font-weight="normal" textLength="32.80" lengthAdjust="spacingAndGlyphs" fill="#231f20" stroke="#231f20" stroke-width="0.14">2-year OS</text>
<text x="118.50" y="471.90" font-size="8.1" font-weight="normal" textLength="8.50" lengthAdjust="spacingAndGlyphs" fill="#231f20" stroke="#231f20" stroke-width="0.14">95</text>
<text x="145.70" y="471.90" font-size="8.1" font-weight="normal" textLength="40.00" lengthAdjust="spacingAndGlyphs" fill="#231f20" stroke="#231f20" stroke-width="0.14">11.2 months</text>
<text x="210.30" y="471.90" font-size="8.1" font-weight="normal" textLength="15.40" lengthAdjust="spacingAndGlyphs" fill="#231f20" stroke="#231f20" stroke-width="0.14">32%</text>
<text x="118.50" y="483.00" font-size="8.1" font-weight="normal" textLength="8.50" lengthAdjust="spacingAndGlyphs" fill="#231f20" stroke="#231f20" stroke-width="0.14">46</text>
<text x="147.70" y="483.00" font-size="8.1" font-weight="normal" textLength="35.40" lengthAdjust="spacingAndGlyphs" fill="#231f20" stroke="#231f20" stroke-width="0.14">9.4 months</text>
<text x="210.60" y="483.00" font-size="8.1" font-weight="normal" textLength="15.10" lengthAdjust="spacingAndGlyphs" fill="#231f20" stroke="#231f20" stroke-width="0.14">18%</text>
<text x="222.50" y="493.20" font-size="8.1" font-weight="normal" textLength="23.50" lengthAdjust="spacingAndGlyphs" fill="#231f20" stroke="#231f20" stroke-width="0.14">P=0.15</text>
<line x1="309.70" y1="192.50" x2="309.70" y2="28.00" stroke="#231f20" stroke-width="1.15"/>
<line x1="306.70" y1="189.50" x2="511.20" y2="189.50" stroke="#231f20" stroke-width="1.1"/>
<line x1="306.70" y1="189.50" x2="309.70" y2="189.50" stroke="#231f20" stroke-width="0.9"/>
<line x1="308.20" y1="181.55" x2="309.70" y2="181.55" stroke="#231f20" stroke-width="0.9"/>
<line x1="308.20" y1="173.60" x2="309.70" y2="173.60" stroke="#231f20" stroke-width="0.9"/>
<line x1="308.20" y1="165.65" x2="309.70" y2="165.65" stroke="#231f20" stroke-width="0.9"/>
<line x1="308.20" y1="157.70" x2="309.70" y2="157.70" stroke="#231f20" stroke-width="0.9"/>
<line x1="306.70" y1="149.75" x2="309.70" y2="149.75" stroke="#231f20" stroke-width="0.9"/>
<line x1="308.20" y1="141.80" x2="309.70" y2="141.80" stroke="#231f20" stroke-width="0.9"/>
<line x1="308.20" y1="133.85" x2="309.70" y2="133.85" stroke="#231f20" stroke-width="0.9"/>
<line x1="308.20" y1="125.90" x2="309.70" y2="125.90" stroke="#231f20" stroke-width="0.9"/>
<line x1="308.20" y1="117.95" x2="309.70" y2="117.95" stroke="#231f20" stroke-width="0.9"/>
<line x1="306.70" y1="110.00" x2="309.70" y2="110.00" stroke="#231f20" stroke-width="0.9"/>
<line x1="308.20" y1="102.05" x2="309.70" y2="102.05" stroke="#231f20" stroke-width="0.9"/>
<line x1="308.20" y1="94.10" x2="309.70" y2="94.10" stroke="#231f20" stroke-width="0.9"/>
<line x1="308.20" y1="86.15" x2="309.70" y2="86.15" stroke="#231f20" stroke-width="0.9"/>
<line x1="308.20" y1="78.20" x2="309.70" y2="78.20" stroke="#231f20" stroke-width="0.9"/>
<line x1="306.70" y1="70.25" x2="309.70" y2="70.25" stroke="#231f20" stroke-width="0.9"/>
<line x1="308.20" y1="62.30" x2="309.70" y2="62.30" stroke="#231f20" stroke-width="0.9"/>
<line x1="308.20" y1="54.35" x2="309.70" y2="54.35" stroke="#231f20" stroke-width="0.9"/>
<line x1="308.20" y1="46.40" x2="309.70" y2="46.40" stroke="#231f20" stroke-width="0.9"/>
<line x1="308.20" y1="38.45" x2="309.70" y2="38.45" stroke="#231f20" stroke-width="0.9"/>
<line x1="306.70" y1="30.50" x2="309.70" y2="30.50" stroke="#231f20" stroke-width="0.9"/>
<line x1="309.70" y1="189.50" x2="309.70" y2="192.50" stroke="#231f20" stroke-width="0.9"/>
<text x="307.48" y="202.75" font-size="8.2" font-weight="normal" textLength="4.45" lengthAdjust="spacingAndGlyphs" fill="#231f20" stroke="#231f20" stroke-width="0.14">0</text>
<line x1="338.09" y1="189.50" x2="338.09" y2="192.50" stroke="#231f20" stroke-width="0.9"/>
<text x="333.64" y="202.75" font-size="8.2" font-weight="normal" textLength="8.90" lengthAdjust="spacingAndGlyphs" fill="#231f20" stroke="#231f20" stroke-width="0.14">12</text>
<line x1="366.47" y1="189.50" x2="366.47" y2="192.50" stroke="#231f20" stroke-width="0.9"/>
<text x="362.02" y="202.75" font-size="8.2" font-weight="normal" textLength="8.90" lengthAdjust="spacingAndGlyphs" fill="#231f20" stroke="#231f20" stroke-width="0.14">24</text>
<line x1="394.86" y1="189.50" x2="394.86" y2="192.50" stroke="#231f20" stroke-width="0.9"/>
<text x="390.41" y="202.75" font-size="8.2" font-weight="normal" textLength="8.90" lengthAdjust="spacingAndGlyphs" fill="#231f20" stroke="#231f20" stroke-width="0.14">36</text>
<line x1="423.24" y1="189.50" x2="423.24" y2="192.50" stroke="#231f20" stroke-width="0.9"/>
<text x="418.79" y="202.75" font-size="8.2" font-weight="normal" textLength="8.90" lengthAdjust="spacingAndGlyphs" fill="#231f20" stroke="#231f20" stroke-width="0.14">48</text>
<line x1="451.63" y1="189.50" x2="451.63" y2="192.50" stroke="#231f20" stroke-width="0.9"/>
<text x="447.18" y="202.75" font-size="8.2" font-weight="normal" textLength="8.90" lengthAdjust="spacingAndGlyphs" fill="#231f20" stroke="#231f20" stroke-width="0.14">60</text>
<line x1="480.01" y1="189.50" x2="480.01" y2="192.50" stroke="#231f20" stroke-width="0.9"/>
<text x="475.57" y="202.75" font-size="8.2" font-weight="normal" textLength="8.90" lengthAdjust="spacingAndGlyphs" fill="#231f20" stroke="#231f20" stroke-width="0.14">72</text>
<line x1="508.40" y1="189.50" x2="508.40" y2="192.50" stroke="#231f20" stroke-width="0.9"/>
<text x="503.95" y="202.75" font-size="8.2" font-weight="normal" textLength="8.90" lengthAdjust="spacingAndGlyphs" fill="#231f20" stroke="#231f20" stroke-width="0.14">84</text>
<text x="299.07" y="192.05" font-size="8.2" font-weight="normal" textLength="4.23" lengthAdjust="spacingAndGlyphs" fill="#231f20" stroke="#231f20" stroke-width="0.14">0</text>
<text x="294.85" y="152.30" font-size="8.2" font-weight="normal" textLength="8.45" lengthAdjust="spacingAndGlyphs" fill="#231f20" stroke="#231f20" stroke-width="0.14">25</text>
<text x="294.85" y="112.55" font-size="8.2" font-weight="normal" textLength="8.45" lengthAdjust="spacingAndGlyphs" fill="#231f20" stroke="#231f20" stroke-width="0.14">50</text>
<text x="294.85" y="72.80" font-size="8.2" font-weight="normal" textLength="8.45" lengthAdjust="spacingAndGlyphs" fill="#231f20" stroke="#231f20" stroke-width="0.14">75</text>
<text x="290.62" y="33.05" font-size="8.2" font-weight="normal" textLength="12.68" lengthAdjust="spacingAndGlyphs" fill="#231f20" stroke="#231f20" stroke-width="0.14">100</text>
<text x="268.00" y="16.60" font-size="10.8" font-weight="bold" textLength="7.80" lengthAdjust="spacingAndGlyphs" fill="#000" stroke="#000" stroke-width="0.45">D</text>
<text transform="translate(284.30,133.00) rotate(-90)" x="0" y="0" font-size="8.4" textLength="48.60" lengthAdjust="spacingAndGlyphs" fill="#231f20" stroke="#231f20" stroke-width="0.36">Relapse risk (%)</text>
<text x="388.80" y="215.60" font-size="9.2" font-weight="normal" textLength="42.70" lengthAdjust="spacingAndGlyphs" fill="#231f20" stroke="#231f20" stroke-width="0.32">Time (months)</text>
<path d="M309.80,189.20 L312.60,186.40 L314.00,174.20 L316.30,162.00 L317.70,156.30 L320.10,148.80 L321.50,145.00 L322.40,139.40 L324.20,126.20 L325.80,122.30 L328.10,120.80 L329.60,116.20 L332.70,113.80 L335.80,106.90 L339.60,106.90 L341.20,100.50 L347.30,100.50 L348.80,96.50 L351.20,96.50 L352.70,92.50 L454.25,92.50" fill="none" stroke="#5670a0" stroke-width="1.1" stroke-linejoin="miter"/>
<path d="M309.80,189.20 L311.20,180.80 L312.10,169.50 L312.60,156.30 L313.50,151.60 L314.00,146.90 L315.40,146.40 L315.40,139.40 L316.10,127.70 L317.30,116.90 L319.60,113.10 L321.90,103.10 L323.20,92.30 L327.30,92.30 L328.80,84.60 L329.60,80.80 L336.50,80.80 L337.00,75.40 L343.50,75.40 L343.50,68.60 L499.50,68.60" fill="none" stroke="#c2446a" stroke-width="1.1" stroke-linejoin="miter"/>
<path d="M309.80,189.20 L312.60,186.40 L314.00,174.20 L316.30,162.00 L317.70,156.30 L320.10,148.80 L321.50,145.00 L322.40,139.40 L324.20,126.20 L325.80,122.30 L328.10,120.80 L329.60,116.20 L332.70,113.80" fill="none" stroke="#1c1c24" stroke-width="1.15" stroke-dasharray="3 0.9"/>
<path d="M309.80,189.20 L311.20,180.80 L312.10,169.50 L312.60,156.30 L313.50,151.60 L314.00,146.90 L315.40,146.40 L315.40,139.40 L316.10,127.70 L317.30,116.90 L319.60,113.10 L321.90,103.10 L323.20,92.30 L327.30,92.30 L328.80,84.60 L329.60,80.80" fill="none" stroke="#1c1c24" stroke-width="1.1" stroke-dasharray="1 3.2"/>
<line x1="339.60" y1="75.40" x2="339.60" y2="73.50" stroke="#231f20" stroke-width="0.9"/>
<line x1="341.20" y1="75.40" x2="341.20" y2="73.50" stroke="#231f20" stroke-width="0.9"/>
<line x1="343.50" y1="68.60" x2="343.50" y2="66.70" stroke="#231f20" stroke-width="0.9"/>
<line x1="358.80" y1="68.60" x2="358.80" y2="66.70" stroke="#231f20" stroke-width="0.9"/>
<line x1="359.60" y1="68.60" x2="359.60" y2="66.70" stroke="#231f20" stroke-width="0.9"/>
<line x1="399.50" y1="68.60" x2="399.50" y2="66.70" stroke="#231f20" stroke-width="0.9"/>
<line x1="452.50" y1="68.60" x2="452.50" y2="66.70" stroke="#231f20" stroke-width="0.9"/>
<line x1="499.50" y1="68.60" x2="499.50" y2="66.70" stroke="#231f20" stroke-width="0.9"/>
<line x1="353.50" y1="92.50" x2="353.50" y2="90.60" stroke="#231f20" stroke-width="0.9"/>
<line x1="357.30" y1="92.50" x2="357.30" y2="90.60" stroke="#231f20" stroke-width="0.9"/>
<line x1="379.60" y1="92.50" x2="379.60" y2="90.60" stroke="#231f20" stroke-width="0.9"/>
<line x1="381.25" y1="92.50" x2="381.25" y2="90.60" stroke="#231f20" stroke-width="0.9"/>
<line x1="401.25" y1="92.50" x2="401.25" y2="90.60" stroke="#231f20" stroke-width="0.9"/>
<line x1="403.75" y1="92.50" x2="403.75" y2="90.60" stroke="#231f20" stroke-width="0.9"/>
<line x1="408.75" y1="92.50" x2="408.75" y2="90.60" stroke="#231f20" stroke-width="0.9"/>
<line x1="417.00" y1="92.50" x2="417.00" y2="90.60" stroke="#231f20" stroke-width="0.9"/>
<line x1="418.75" y1="92.50" x2="418.75" y2="90.60" stroke="#231f20" stroke-width="0.9"/>
<line x1="425.00" y1="92.50" x2="425.00" y2="90.60" stroke="#231f20" stroke-width="0.9"/>
<line x1="426.25" y1="92.50" x2="426.25" y2="90.60" stroke="#231f20" stroke-width="0.9"/>
<line x1="454.25" y1="92.50" x2="454.25" y2="90.60" stroke="#231f20" stroke-width="0.9"/>
<line x1="318.70" y1="35.30" x2="327.70" y2="35.30" stroke="#5670a0" stroke-width="1.1"/>
<line x1="323.20" y1="35.30" x2="323.20" y2="33.10" stroke="#231f20" stroke-width="0.9"/>
<line x1="318.70" y1="46.70" x2="327.70" y2="46.70" stroke="#c2446a" stroke-width="1.1"/>
<line x1="323.20" y1="46.70" x2="323.20" y2="44.50" stroke="#231f20" stroke-width="0.9"/>
<text x="330.80" y="37.20" font-size="8.1" font-weight="normal" textLength="45.50" lengthAdjust="spacingAndGlyphs" fill="#231f20" stroke="#231f20" stroke-width="0.14">MRD negative</text>
<text x="330.80" y="48.60" font-size="8.1" font-weight="normal" textLength="43.60" lengthAdjust="spacingAndGlyphs" fill="#231f20" stroke="#231f20" stroke-width="0.14">MRD positive</text>
<line x1="381.20" y1="27.40" x2="399.40" y2="27.40" stroke="#231f20" stroke-width="1.0"/>
<line x1="402.80" y1="27.40" x2="462.80" y2="27.40" stroke="#231f20" stroke-width="1.0"/>
<line x1="466.30" y1="27.40" x2="503.90" y2="27.40" stroke="#231f20" stroke-width="1.0"/>
<text x="387.80" y="22.60" font-size="8.1" font-weight="normal" textLength="5.20" lengthAdjust="spacingAndGlyphs" fill="#231f20" stroke="#231f20" stroke-width="0.14">N</text>
<text x="413.20" y="13.50" font-size="8.1" font-weight="normal" textLength="38.80" lengthAdjust="spacingAndGlyphs" fill="#231f20" stroke="#231f20" stroke-width="0.14">Median time</text>
<text x="416.60" y="22.60" font-size="8.1" font-weight="normal" textLength="31.90" lengthAdjust="spacingAndGlyphs" fill="#231f20" stroke="#231f20" stroke-width="0.14">to relapse</text>
<text x="462.40" y="22.60" font-size="8.1" font-weight="normal" textLength="45.00" lengthAdjust="spacingAndGlyphs" fill="#231f20" stroke="#231f20" stroke-width="0.14">2-year relapse</text>
<text x="386.00" y="36.90" font-size="8.1" font-weight="normal" textLength="8.60" lengthAdjust="spacingAndGlyphs" fill="#231f20" stroke="#231f20" stroke-width="0.14">86</text>
<text x="413.20" y="36.90" font-size="8.1" font-weight="normal" textLength="39.50" lengthAdjust="spacingAndGlyphs" fill="#231f20" stroke="#231f20" stroke-width="0.14">10.6 months</text>
<text x="477.40" y="36.90" font-size="8.1" font-weight="normal" textLength="15.40" lengthAdjust="spacingAndGlyphs" fill="#231f20" stroke="#231f20" stroke-width="0.14">61%</text>
<text x="386.00" y="48.30" font-size="8.1" font-weight="normal" textLength="8.60" lengthAdjust="spacingAndGlyphs" fill="#231f20" stroke="#231f20" stroke-width="0.14">55</text>
<text x="415.00" y="48.30" font-size="8.1" font-weight="normal" textLength="35.30" lengthAdjust="spacingAndGlyphs" fill="#231f20" stroke="#231f20" stroke-width="0.14">4.7 months</text>
<text x="477.40" y="48.30" font-size="8.1" font-weight="normal" textLength="15.40" lengthAdjust="spacingAndGlyphs" fill="#231f20" stroke="#231f20" stroke-width="0.14">76%</text>
<text x="483.60" y="58.40" font-size="8.1" font-weight="normal" textLength="22.60" lengthAdjust="spacingAndGlyphs" fill="#231f20" stroke="#231f20" stroke-width="0.14">P=0.01</text>
<line x1="309.70" y1="409.80" x2="309.70" y2="245.30" stroke="#231f20" stroke-width="1.15"/>
<line x1="306.70" y1="406.80" x2="511.20" y2="406.80" stroke="#231f20" stroke-width="1.1"/>
<line x1="306.70" y1="406.80" x2="309.70" y2="406.80" stroke="#231f20" stroke-width="0.9"/>
<line x1="308.20" y1="398.85" x2="309.70" y2="398.85" stroke="#231f20" stroke-width="0.9"/>
<line x1="308.20" y1="390.90" x2="309.70" y2="390.90" stroke="#231f20" stroke-width="0.9"/>
<line x1="308.20" y1="382.95" x2="309.70" y2="382.95" stroke="#231f20" stroke-width="0.9"/>
<line x1="308.20" y1="375.00" x2="309.70" y2="375.00" stroke="#231f20" stroke-width="0.9"/>
<line x1="306.70" y1="367.05" x2="309.70" y2="367.05" stroke="#231f20" stroke-width="0.9"/>
<line x1="308.20" y1="359.10" x2="309.70" y2="359.10" stroke="#231f20" stroke-width="0.9"/>
<line x1="308.20" y1="351.15" x2="309.70" y2="351.15" stroke="#231f20" stroke-width="0.9"/>
<line x1="308.20" y1="343.20" x2="309.70" y2="343.20" stroke="#231f20" stroke-width="0.9"/>
<line x1="308.20" y1="335.25" x2="309.70" y2="335.25" stroke="#231f20" stroke-width="0.9"/>
<line x1="306.70" y1="327.30" x2="309.70" y2="327.30" stroke="#231f20" stroke-width="0.9"/>
<line x1="308.20" y1="319.35" x2="309.70" y2="319.35" stroke="#231f20" stroke-width="0.9"/>
<line x1="308.20" y1="311.40" x2="309.70" y2="311.40" stroke="#231f20" stroke-width="0.9"/>
<line x1="308.20" y1="303.45" x2="309.70" y2="303.45" stroke="#231f20" stroke-width="0.9"/>
<line x1="308.20" y1="295.50" x2="309.70" y2="295.50" stroke="#231f20" stroke-width="0.9"/>
<line x1="306.70" y1="287.55" x2="309.70" y2="287.55" stroke="#231f20" stroke-width="0.9"/>
<line x1="308.20" y1="279.60" x2="309.70" y2="279.60" stroke="#231f20" stroke-width="0.9"/>
<line x1="308.20" y1="271.65" x2="309.70" y2="271.65" stroke="#231f20" stroke-width="0.9"/>
<line x1="308.20" y1="263.70" x2="309.70" y2="263.70" stroke="#231f20" stroke-width="0.9"/>
<line x1="308.20" y1="255.75" x2="309.70" y2="255.75" stroke="#231f20" stroke-width="0.9"/>
<line x1="306.70" y1="247.80" x2="309.70" y2="247.80" stroke="#231f20" stroke-width="0.9"/>
<line x1="309.70" y1="406.80" x2="309.70" y2="409.80" stroke="#231f20" stroke-width="0.9"/>
<text x="307.48" y="420.05" font-size="8.2" font-weight="normal" textLength="4.45" lengthAdjust="spacingAndGlyphs" fill="#231f20" stroke="#231f20" stroke-width="0.14">0</text>
<line x1="338.09" y1="406.80" x2="338.09" y2="409.80" stroke="#231f20" stroke-width="0.9"/>
<text x="333.64" y="420.05" font-size="8.2" font-weight="normal" textLength="8.90" lengthAdjust="spacingAndGlyphs" fill="#231f20" stroke="#231f20" stroke-width="0.14">12</text>
<line x1="366.47" y1="406.80" x2="366.47" y2="409.80" stroke="#231f20" stroke-width="0.9"/>
<text x="362.02" y="420.05" font-size="8.2" font-weight="normal" textLength="8.90" lengthAdjust="spacingAndGlyphs" fill="#231f20" stroke="#231f20" stroke-width="0.14">24</text>
<line x1="394.86" y1="406.80" x2="394.86" y2="409.80" stroke="#231f20" stroke-width="0.9"/>
<text x="390.41" y="420.05" font-size="8.2" font-weight="normal" textLength="8.90" lengthAdjust="spacingAndGlyphs" fill="#231f20" stroke="#231f20" stroke-width="0.14">36</text>
<line x1="423.24" y1="406.80" x2="423.24" y2="409.80" stroke="#231f20" stroke-width="0.9"/>
<text x="418.79" y="420.05" font-size="8.2" font-weight="normal" textLength="8.90" lengthAdjust="spacingAndGlyphs" fill="#231f20" stroke="#231f20" stroke-width="0.14">48</text>
<line x1="451.63" y1="406.80" x2="451.63" y2="409.80" stroke="#231f20" stroke-width="0.9"/>
<text x="447.18" y="420.05" font-size="8.2" font-weight="normal" textLength="8.90" lengthAdjust="spacingAndGlyphs" fill="#231f20" stroke="#231f20" stroke-width="0.14">60</text>
<line x1="480.01" y1="406.80" x2="480.01" y2="409.80" stroke="#231f20" stroke-width="0.9"/>
<text x="475.57" y="420.05" font-size="8.2" font-weight="normal" textLength="8.90" lengthAdjust="spacingAndGlyphs" fill="#231f20" stroke="#231f20" stroke-width="0.14">72</text>
<line x1="508.40" y1="406.80" x2="508.40" y2="409.80" stroke="#231f20" stroke-width="0.9"/>
<text x="503.95" y="420.05" font-size="8.2" font-weight="normal" textLength="8.90" lengthAdjust="spacingAndGlyphs" fill="#231f20" stroke="#231f20" stroke-width="0.14">84</text>
<text x="299.07" y="409.35" font-size="8.2" font-weight="normal" textLength="4.23" lengthAdjust="spacingAndGlyphs" fill="#231f20" stroke="#231f20" stroke-width="0.14">0</text>
<text x="294.85" y="369.60" font-size="8.2" font-weight="normal" textLength="8.45" lengthAdjust="spacingAndGlyphs" fill="#231f20" stroke="#231f20" stroke-width="0.14">25</text>
<text x="294.85" y="329.85" font-size="8.2" font-weight="normal" textLength="8.45" lengthAdjust="spacingAndGlyphs" fill="#231f20" stroke="#231f20" stroke-width="0.14">50</text>
<text x="294.85" y="290.10" font-size="8.2" font-weight="normal" textLength="8.45" lengthAdjust="spacingAndGlyphs" fill="#231f20" stroke="#231f20" stroke-width="0.14">75</text>
<text x="290.62" y="250.35" font-size="8.2" font-weight="normal" textLength="12.68" lengthAdjust="spacingAndGlyphs" fill="#231f20" stroke="#231f20" stroke-width="0.14">100</text>
<text x="268.00" y="243.60" font-size="10.8" font-weight="bold" textLength="7.20" lengthAdjust="spacingAndGlyphs" fill="#000" stroke="#000" stroke-width="0.45">E</text>
<text transform="translate(284.30,364.00) rotate(-90)" x="0" y="0" font-size="8.4" textLength="76.80" lengthAdjust="spacingAndGlyphs" fill="#231f20" stroke="#231f20" stroke-width="0.36">Relapse-free survival (%)</text>
<text x="388.80" y="432.70" font-size="9.2" font-weight="normal" textLength="42.70" lengthAdjust="spacingAndGlyphs" fill="#231f20" stroke="#231f20" stroke-width="0.32">Time (months)</text>
<path d="M309.80,247.80 L310.20,247.60 L311.50,253.70 L312.70,257.30 L313.90,265.80 L315.10,271.90 L316.30,275.50 L316.90,284.00 L318.10,288.80 L319.90,294.90 L321.20,299.80 L321.80,307.00 L323.10,319.20 L324.60,325.40 L328.50,330.00 L333.10,335.40 L335.40,345.40 L338.50,346.90 L340.80,351.50 L346.90,352.30 L350.80,358.50 L356.20,360.80 L358.50,364.80 L416.75,364.80 L416.75,371.75 L454.25,371.75" fill="none" stroke="#5670a0" stroke-width="1.1" stroke-linejoin="miter"/>
<path d="M309.80,247.80 L310.80,256.10 L311.50,265.80 L312.10,275.50 L312.70,285.20 L313.90,291.90 L315.10,292.50 L315.70,302.20 L316.30,311.90 L317.40,321.50 L319.20,323.80 L321.50,333.10 L323.10,346.90 L326.90,346.90 L330.00,356.90 L335.40,356.90 L336.90,362.30 L341.50,362.30 L342.60,374.60 L358.90,374.60 L358.90,382.60 L399.25,382.60 L399.25,390.50 L499.50,390.50" fill="none" stroke="#c2446a" stroke-width="1.1" stroke-linejoin="miter"/>
<path d="M309.80,247.80 L310.20,247.60 L311.50,253.70 L312.70,257.30 L313.90,265.80 L315.10,271.90 L316.30,275.50 L316.90,284.00 L318.10,288.80 L319.90,294.90 L321.20,299.80 L321.80,307.00 L323.10,319.20 L324.60,325.40 L328.50,330.00 L333.10,335.40 L335.40,345.40 L338.50,346.90 L340.80,351.50 L346.90,352.30 L350.80,358.50 L356.20,360.80" fill="none" stroke="#1c1c24" stroke-width="1.15" stroke-dasharray="3 0.9"/>
<path d="M309.80,247.80 L310.80,256.10 L311.50,265.80 L312.10,275.50 L312.70,285.20 L313.90,291.90 L315.10,292.50 L315.70,302.20 L316.30,311.90 L317.40,321.50 L319.20,323.80 L321.50,333.10" fill="none" stroke="#1c1c24" stroke-width="1.1" stroke-dasharray="1 3.2"/>
<line x1="378.50" y1="364.80" x2="378.50" y2="362.90" stroke="#231f20" stroke-width="0.9"/>
<line x1="380.00" y1="364.80" x2="380.00" y2="362.90" stroke="#231f20" stroke-width="0.9"/>
<line x1="381.25" y1="364.80" x2="381.25" y2="362.90" stroke="#231f20" stroke-width="0.9"/>
<line x1="401.25" y1="364.80" x2="401.25" y2="362.90" stroke="#231f20" stroke-width="0.9"/>
<line x1="403.75" y1="364.80" x2="403.75" y2="362.90" stroke="#231f20" stroke-width="0.9"/>
<line x1="408.75" y1="364.80" x2="408.75" y2="362.90" stroke="#231f20" stroke-width="0.9"/>
<line x1="418.75" y1="371.75" x2="418.75" y2="369.85" stroke="#231f20" stroke-width="0.9"/>
<line x1="425.00" y1="371.75" x2="425.00" y2="369.85" stroke="#231f20" stroke-width="0.9"/>
<line x1="425.75" y1="371.75" x2="425.75" y2="369.85" stroke="#231f20" stroke-width="0.9"/>
<line x1="454.25" y1="371.75" x2="454.25" y2="369.85" stroke="#231f20" stroke-width="0.9"/>
<line x1="335.40" y1="356.90" x2="335.40" y2="355.00" stroke="#231f20" stroke-width="0.9"/>
<line x1="339.20" y1="362.30" x2="339.20" y2="360.40" stroke="#231f20" stroke-width="0.9"/>
<line x1="356.20" y1="374.60" x2="356.20" y2="372.70" stroke="#231f20" stroke-width="0.9"/>
<line x1="452.50" y1="390.50" x2="452.50" y2="388.60" stroke="#231f20" stroke-width="0.9"/>
<line x1="499.50" y1="390.50" x2="499.50" y2="388.60" stroke="#231f20" stroke-width="0.9"/>
<line x1="318.70" y1="252.90" x2="327.70" y2="252.90" stroke="#5670a0" stroke-width="1.1"/>
<line x1="323.20" y1="252.90" x2="323.20" y2="250.70" stroke="#231f20" stroke-width="0.9"/>
<line x1="318.70" y1="264.40" x2="327.70" y2="264.40" stroke="#c2446a" stroke-width="1.1"/>
<line x1="323.20" y1="264.40" x2="323.20" y2="262.20" stroke="#231f20" stroke-width="0.9"/>
<text x="330.80" y="254.80" font-size="8.1" font-weight="normal" textLength="45.50" lengthAdjust="spacingAndGlyphs" fill="#231f20" stroke="#231f20" stroke-width="0.14">MRD negative</text>
<text x="330.80" y="266.30" font-size="8.1" font-weight="normal" textLength="43.60" lengthAdjust="spacingAndGlyphs" fill="#231f20" stroke="#231f20" stroke-width="0.14">MRD positive</text>
<line x1="381.20" y1="244.60" x2="398.75" y2="244.60" stroke="#231f20" stroke-width="1.0"/>
<line x1="402.50" y1="244.60" x2="462.50" y2="244.60" stroke="#231f20" stroke-width="1.0"/>
<line x1="466.25" y1="244.60" x2="503.75" y2="244.60" stroke="#231f20" stroke-width="1.0"/>
<text x="387.80" y="240.00" font-size="8.1" font-weight="normal" textLength="5.20" lengthAdjust="spacingAndGlyphs" fill="#231f20" stroke="#231f20" stroke-width="0.14">N</text>
<text x="412.50" y="239.80" font-size="8.1" font-weight="normal" textLength="40.00" lengthAdjust="spacingAndGlyphs" fill="#231f20" stroke="#231f20" stroke-width="0.14">Median RFS</text>
<text x="466.25" y="239.80" font-size="8.1" font-weight="normal" textLength="37.00" lengthAdjust="spacingAndGlyphs" fill="#231f20" stroke="#231f20" stroke-width="0.14">2-year RFS</text>
<text x="386.00" y="254.60" font-size="8.1" font-weight="normal" textLength="8.60" lengthAdjust="spacingAndGlyphs" fill="#231f20" stroke="#231f20" stroke-width="0.14">86</text>
<text x="415.75" y="254.60" font-size="8.1" font-weight="normal" textLength="34.25" lengthAdjust="spacingAndGlyphs" fill="#231f20" stroke="#231f20" stroke-width="0.14">7.3 months</text>
<text x="477.50" y="254.60" font-size="8.1" font-weight="normal" textLength="15.00" lengthAdjust="spacingAndGlyphs" fill="#231f20" stroke="#231f20" stroke-width="0.14">26%</text>
<text x="386.00" y="265.80" font-size="8.1" font-weight="normal" textLength="8.60" lengthAdjust="spacingAndGlyphs" fill="#231f20" stroke="#231f20" stroke-width="0.14">55</text>
<text x="415.75" y="265.80" font-size="8.1" font-weight="normal" textLength="34.25" lengthAdjust="spacingAndGlyphs" fill="#231f20" stroke="#231f20" stroke-width="0.14">4.6 months</text>
<text x="477.50" y="265.80" font-size="8.1" font-weight="normal" textLength="15.00" lengthAdjust="spacingAndGlyphs" fill="#231f20" stroke="#231f20" stroke-width="0.14">15%</text>
<text x="483.75" y="275.40" font-size="8.1" font-weight="normal" textLength="23.75" lengthAdjust="spacingAndGlyphs" fill="#231f20" stroke="#231f20" stroke-width="0.14">P=0.05</text>
<line x1="309.70" y1="627.50" x2="309.70" y2="463.00" stroke="#231f20" stroke-width="1.15"/>
<line x1="306.70" y1="624.50" x2="511.20" y2="624.50" stroke="#231f20" stroke-width="1.1"/>
<line x1="306.70" y1="624.50" x2="309.70" y2="624.50" stroke="#231f20" stroke-width="0.9"/>
<line x1="308.20" y1="616.55" x2="309.70" y2="616.55" stroke="#231f20" stroke-width="0.9"/>
<line x1="308.20" y1="608.60" x2="309.70" y2="608.60" stroke="#231f20" stroke-width="0.9"/>
<line x1="308.20" y1="600.65" x2="309.70" y2="600.65" stroke="#231f20" stroke-width="0.9"/>
<line x1="308.20" y1="592.70" x2="309.70" y2="592.70" stroke="#231f20" stroke-width="0.9"/>
<line x1="306.70" y1="584.75" x2="309.70" y2="584.75" stroke="#231f20" stroke-width="0.9"/>
<line x1="308.20" y1="576.80" x2="309.70" y2="576.80" stroke="#231f20" stroke-width="0.9"/>
<line x1="308.20" y1="568.85" x2="309.70" y2="568.85" stroke="#231f20" stroke-width="0.9"/>
<line x1="308.20" y1="560.90" x2="309.70" y2="560.90" stroke="#231f20" stroke-width="0.9"/>
<line x1="308.20" y1="552.95" x2="309.70" y2="552.95" stroke="#231f20" stroke-width="0.9"/>
<line x1="306.70" y1="545.00" x2="309.70" y2="545.00" stroke="#231f20" stroke-width="0.9"/>
<line x1="308.20" y1="537.05" x2="309.70" y2="537.05" stroke="#231f20" stroke-width="0.9"/>
<line x1="308.20" y1="529.10" x2="309.70" y2="529.10" stroke="#231f20" stroke-width="0.9"/>
<line x1="308.20" y1="521.15" x2="309.70" y2="521.15" stroke="#231f20" stroke-width="0.9"/>
<line x1="308.20" y1="513.20" x2="309.70" y2="513.20" stroke="#231f20" stroke-width="0.9"/>
<line x1="306.70" y1="505.25" x2="309.70" y2="505.25" stroke="#231f20" stroke-width="0.9"/>
<line x1="308.20" y1="497.30" x2="309.70" y2="497.30" stroke="#231f20" stroke-width="0.9"/>
<line x1="308.20" y1="489.35" x2="309.70" y2="489.35" stroke="#231f20" stroke-width="0.9"/>
<line x1="308.20" y1="481.40" x2="309.70" y2="481.40" stroke="#231f20" stroke-width="0.9"/>
<line x1="308.20" y1="473.45" x2="309.70" y2="473.45" stroke="#231f20" stroke-width="0.9"/>
<line x1="306.70" y1="465.50" x2="309.70" y2="465.50" stroke="#231f20" stroke-width="0.9"/>
<line x1="309.70" y1="624.50" x2="309.70" y2="627.50" stroke="#231f20" stroke-width="0.9"/>
<text x="307.48" y="637.75" font-size="8.2" font-weight="normal" textLength="4.45" lengthAdjust="spacingAndGlyphs" fill="#231f20" stroke="#231f20" stroke-width="0.14">0</text>
<line x1="338.09" y1="624.50" x2="338.09" y2="627.50" stroke="#231f20" stroke-width="0.9"/>
<text x="333.64" y="637.75" font-size="8.2" font-weight="normal" textLength="8.90" lengthAdjust="spacingAndGlyphs" fill="#231f20" stroke="#231f20" stroke-width="0.14">12</text>
<line x1="366.47" y1="624.50" x2="366.47" y2="627.50" stroke="#231f20" stroke-width="0.9"/>
<text x="362.02" y="637.75" font-size="8.2" font-weight="normal" textLength="8.90" lengthAdjust="spacingAndGlyphs" fill="#231f20" stroke="#231f20" stroke-width="0.14">24</text>
<line x1="394.86" y1="624.50" x2="394.86" y2="627.50" stroke="#231f20" stroke-width="0.9"/>
<text x="390.41" y="637.75" font-size="8.2" font-weight="normal" textLength="8.90" lengthAdjust="spacingAndGlyphs" fill="#231f20" stroke="#231f20" stroke-width="0.14">36</text>
<line x1="423.24" y1="624.50" x2="423.24" y2="627.50" stroke="#231f20" stroke-width="0.9"/>
<text x="418.79" y="637.75" font-size="8.2" font-weight="normal" textLength="8.90" lengthAdjust="spacingAndGlyphs" fill="#231f20" stroke="#231f20" stroke-width="0.14">48</text>
<line x1="451.63" y1="624.50" x2="451.63" y2="627.50" stroke="#231f20" stroke-width="0.9"/>
<text x="447.18" y="637.75" font-size="8.2" font-weight="normal" textLength="8.90" lengthAdjust="spacingAndGlyphs" fill="#231f20" stroke="#231f20" stroke-width="0.14">60</text>
<line x1="480.01" y1="624.50" x2="480.01" y2="627.50" stroke="#231f20" stroke-width="0.9"/>
<text x="475.57" y="637.75" font-size="8.2" font-weight="normal" textLength="8.90" lengthAdjust="spacingAndGlyphs" fill="#231f20" stroke="#231f20" stroke-width="0.14">72</text>
<line x1="508.40" y1="624.50" x2="508.40" y2="627.50" stroke="#231f20" stroke-width="0.9"/>
<text x="503.95" y="637.75" font-size="8.2" font-weight="normal" textLength="8.90" lengthAdjust="spacingAndGlyphs" fill="#231f20" stroke="#231f20" stroke-width="0.14">84</text>
<text x="299.07" y="627.05" font-size="8.2" font-weight="normal" textLength="4.23" lengthAdjust="spacingAndGlyphs" fill="#231f20" stroke="#231f20" stroke-width="0.14">0</text>
<text x="294.85" y="587.30" font-size="8.2" font-weight="normal" textLength="8.45" lengthAdjust="spacingAndGlyphs" fill="#231f20" stroke="#231f20" stroke-width="0.14">25</text>
<text x="294.85" y="547.55" font-size="8.2" font-weight="normal" textLength="8.45" lengthAdjust="spacingAndGlyphs" fill="#231f20" stroke="#231f20" stroke-width="0.14">50</text>
<text x="294.85" y="507.80" font-size="8.2" font-weight="normal" textLength="8.45" lengthAdjust="spacingAndGlyphs" fill="#231f20" stroke="#231f20" stroke-width="0.14">75</text>
<text x="290.62" y="468.05" font-size="8.2" font-weight="normal" textLength="12.68" lengthAdjust="spacingAndGlyphs" fill="#231f20" stroke="#231f20" stroke-width="0.14">100</text>
<text x="268.00" y="461.00" font-size="10.8" font-weight="bold" textLength="7.20" lengthAdjust="spacingAndGlyphs" fill="#000" stroke="#000" stroke-width="0.45">F</text>
<text transform="translate(284.30,572.00) rotate(-90)" x="0" y="0" font-size="8.4" textLength="57.60" lengthAdjust="spacingAndGlyphs" fill="#231f20" stroke="#231f20" stroke-width="0.36">Overall survival (%)</text>
<text x="389.00" y="650.20" font-size="9.2" font-weight="normal" textLength="42.70" lengthAdjust="spacingAndGlyphs" fill="#231f20" stroke="#231f20" stroke-width="0.32">Time (months)</text>
<path d="M309.80,465.30 L312.20,468.50 L314.50,471.50 L316.80,476.90 L319.10,484.60 L321.40,495.40 L322.90,503.10 L324.50,510.80 L326.00,516.90 L328.30,520.00 L330.60,526.20 L333.50,526.90 L335.80,536.90 L338.10,544.60 L348.10,544.60 L349.60,552.30 L355.00,553.10 L358.10,567.70 L361.90,569.20 L362.70,570.80 L369.60,570.80 L370.40,573.80 L375.00,574.60 L379.60,580.00 L410.50,580.00 L410.50,585.00 L416.25,585.00 L416.25,591.75 L454.25,591.75" fill="none" stroke="#5670a0" stroke-width="1.1" stroke-linejoin="miter"/>
<path d="M309.80,465.30 L312.20,468.50 L314.50,471.50 L316.80,476.90 L319.10,484.60 L321.40,495.40 L323.70,498.50 L324.50,510.80 L326.00,516.90 L328.30,520.00 L330.40,526.20 L331.90,536.90 L335.00,546.20 L336.50,553.80 L338.80,554.60 L341.20,563.10 L344.20,563.80 L345.80,569.20 L348.10,570.00 L348.80,574.60 L351.90,574.60 L352.70,585.40 L358.80,585.40 L359.60,592.30 L386.75,592.30 L386.75,598.25 L399.25,598.25 L399.25,605.00 L418.00,605.00 L418.00,611.25 L499.50,611.25" fill="none" stroke="#c2446a" stroke-width="1.1" stroke-linejoin="miter"/>
<path d="M309.80,465.30 L312.20,468.50 L314.50,471.50 L316.80,476.90 L319.10,484.60 L321.40,495.40 L322.90,503.10 L324.50,510.80 L326.00,516.90" fill="none" stroke="#1c1c24" stroke-width="1.15" stroke-dasharray="3 0.9"/>
<path d="M309.80,465.30 L312.20,468.50 L314.50,471.50 L316.80,476.90 L319.10,484.60 L321.40,495.40 L323.70,498.50 L324.50,510.80 L326.00,516.90 L328.30,520.00 L330.40,526.20 L331.90,536.90 L335.00,546.20 L336.50,553.80" fill="none" stroke="#1c1c24" stroke-width="1.1" stroke-dasharray="1 3.2"/>
<line x1="336.50" y1="536.90" x2="336.50" y2="535.00" stroke="#231f20" stroke-width="0.9"/>
<line x1="347.30" y1="544.60" x2="347.30" y2="542.70" stroke="#231f20" stroke-width="0.9"/>
<line x1="348.10" y1="544.60" x2="348.10" y2="542.70" stroke="#231f20" stroke-width="0.9"/>
<line x1="377.30" y1="580.00" x2="377.30" y2="578.10" stroke="#231f20" stroke-width="0.9"/>
<line x1="381.25" y1="580.00" x2="381.25" y2="578.10" stroke="#231f20" stroke-width="0.9"/>
<line x1="401.20" y1="580.00" x2="401.20" y2="578.10" stroke="#231f20" stroke-width="0.9"/>
<line x1="403.50" y1="580.00" x2="403.50" y2="578.10" stroke="#231f20" stroke-width="0.9"/>
<line x1="408.25" y1="580.00" x2="408.25" y2="578.10" stroke="#231f20" stroke-width="0.9"/>
<line x1="413.75" y1="585.00" x2="413.75" y2="583.10" stroke="#231f20" stroke-width="0.9"/>
<line x1="418.75" y1="591.75" x2="418.75" y2="589.85" stroke="#231f20" stroke-width="0.9"/>
<line x1="425.00" y1="591.75" x2="425.00" y2="589.85" stroke="#231f20" stroke-width="0.9"/>
<line x1="425.75" y1="591.75" x2="425.75" y2="589.85" stroke="#231f20" stroke-width="0.9"/>
<line x1="454.25" y1="591.75" x2="454.25" y2="589.85" stroke="#231f20" stroke-width="0.9"/>
<line x1="338.10" y1="554.60" x2="338.10" y2="552.70" stroke="#231f20" stroke-width="0.9"/>
<line x1="356.50" y1="585.40" x2="356.50" y2="583.50" stroke="#231f20" stroke-width="0.9"/>
<line x1="452.50" y1="611.25" x2="452.50" y2="609.35" stroke="#231f20" stroke-width="0.9"/>
<line x1="499.50" y1="611.25" x2="499.50" y2="609.35" stroke="#231f20" stroke-width="0.9"/>
<line x1="323.00" y1="470.80" x2="332.70" y2="470.80" stroke="#5670a0" stroke-width="1.1"/>
<line x1="327.85" y1="470.80" x2="327.85" y2="468.60" stroke="#231f20" stroke-width="0.9"/>
<line x1="323.00" y1="481.90" x2="332.70" y2="481.90" stroke="#c2446a" stroke-width="1.1"/>
<line x1="327.85" y1="481.90" x2="327.85" y2="479.70" stroke="#231f20" stroke-width="0.9"/>
<text x="335.00" y="472.70" font-size="8.1" font-weight="normal" textLength="45.80" lengthAdjust="spacingAndGlyphs" fill="#231f20" stroke="#231f20" stroke-width="0.14">MRD negative</text>
<text x="335.00" y="483.80" font-size="8.1" font-weight="normal" textLength="43.30" lengthAdjust="spacingAndGlyphs" fill="#231f20" stroke="#231f20" stroke-width="0.14">MRD positive</text>
<line x1="381.50" y1="461.90" x2="399.00" y2="461.90" stroke="#231f20" stroke-width="1.0"/>
<line x1="402.50" y1="461.90" x2="462.80" y2="461.90" stroke="#231f20" stroke-width="1.0"/>
<line x1="466.00" y1="461.90" x2="504.00" y2="461.90" stroke="#231f20" stroke-width="1.0"/>
<text x="387.80" y="457.30" font-size="8.1" font-weight="normal" textLength="5.20" lengthAdjust="spacingAndGlyphs" fill="#231f20" stroke="#231f20" stroke-width="0.14">N</text>
<text x="414.40" y="457.30" font-size="8.1" font-weight="normal" textLength="36.30" lengthAdjust="spacingAndGlyphs" fill="#231f20" stroke="#231f20" stroke-width="0.14">Median OS</text>
<text x="468.10" y="457.30" font-size="8.1" font-weight="normal" textLength="33.40" lengthAdjust="spacingAndGlyphs" fill="#231f20" stroke="#231f20" stroke-width="0.14">2-year OS</text>
<text x="386.00" y="471.90" font-size="8.1" font-weight="normal" textLength="8.60" lengthAdjust="spacingAndGlyphs" fill="#231f20" stroke="#231f20" stroke-width="0.14">86</text>
<text x="413.10" y="471.90" font-size="8.1" font-weight="normal" textLength="39.30" lengthAdjust="spacingAndGlyphs" fill="#231f20" stroke="#231f20" stroke-width="0.14">12.3 months</text>
<text x="476.50" y="471.90" font-size="8.1" font-weight="normal" textLength="16.10" lengthAdjust="spacingAndGlyphs" fill="#231f20" stroke="#231f20" stroke-width="0.14">34%</text>
<text x="386.00" y="483.00" font-size="8.1" font-weight="normal" textLength="8.60" lengthAdjust="spacingAndGlyphs" fill="#231f20" stroke="#231f20" stroke-width="0.14">55</text>
<text x="413.10" y="483.00" font-size="8.1" font-weight="normal" textLength="39.30" lengthAdjust="spacingAndGlyphs" fill="#231f20" stroke="#231f20" stroke-width="0.14">10.5 months</text>
<text x="476.50" y="483.00" font-size="8.1" font-weight="normal" textLength="16.10" lengthAdjust="spacingAndGlyphs" fill="#231f20" stroke="#231f20" stroke-width="0.14">20%</text>
<text x="483.10" y="493.20" font-size="8.1" font-weight="normal" textLength="22.60" lengthAdjust="spacingAndGlyphs" fill="#231f20" stroke="#231f20" stroke-width="0.14">P=0.21</text>
</svg></body></html>
